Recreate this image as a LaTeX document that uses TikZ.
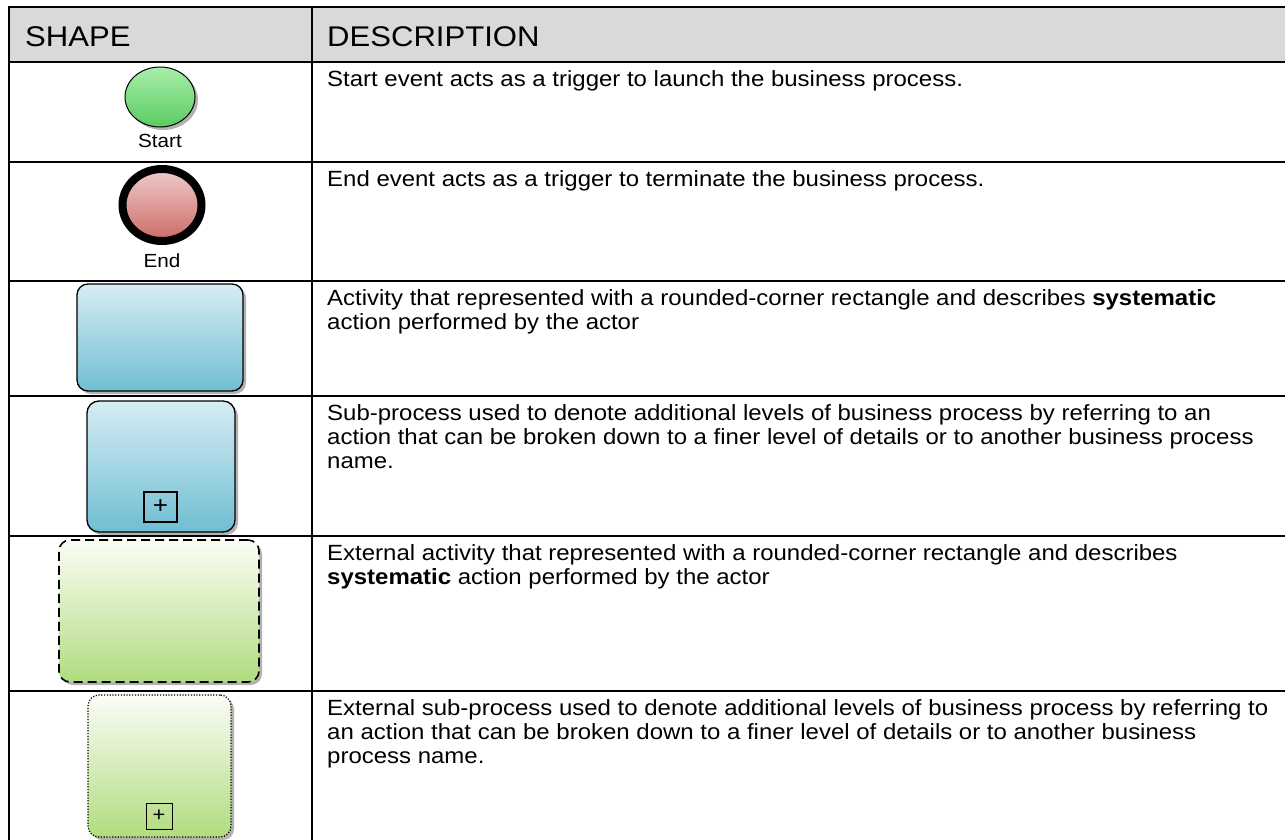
\documentclass[tikz,border=0pt]{standalone}
\usepackage{fontspec}
\setmainfont{Liberation Sans}[FakeStretch=1.09]
\usetikzlibrary{shapes.geometric,shadows}
\definecolor{hdrgray}{HTML}{D9D9D9}
\definecolor{grntop}{HTML}{A8EEAA}
\definecolor{grnbot}{HTML}{5ACB62}
\definecolor{redtop}{HTML}{F0CBCB}
\definecolor{redbot}{HTML}{CB6B66}
\definecolor{bluetop}{HTML}{D6EDF3}
\definecolor{bluebot}{HTML}{70BED3}
\definecolor{exttop}{HTML}{FBFDF6}
\definecolor{extbot}{HTML}{B0DC7E}
\begin{document}
\begin{tikzpicture}[x=1pt,y=-1pt,
  gridline/.style={line width=2.9pt,line cap=rect},
  hdrtext/.style={anchor=base west,inner sep=0pt,font=\fontsize{28.5}{32}\selectfont},
  desctext/.style={anchor=north west,inner sep=0pt,align=left,font=\fontsize{22}{24}\selectfont},
  shapelabel/.style={anchor=base,inner sep=0pt,font=\fontsize{19}{22}\selectfont},
  softshadow/.style={drop shadow={shadow xshift=3pt,shadow yshift=-3pt,fill=black,opacity=0.3}},
  startev/.style={ellipse,draw,line width=1pt,minimum width=70pt,minimum height=60pt,inner sep=0pt,
    top color=grntop,bottom color=grnbot,softshadow},
  endev/.style={ellipse,draw,line width=8pt,minimum width=79pt,minimum height=72pt,inner sep=0pt,
    top color=redtop,bottom color=redbot,softshadow},
  activitybox/.style={rectangle,rounded corners=11pt,draw,line width=1.3pt,inner sep=0pt,
    top color=bluetop,bottom color=bluebot,softshadow},
  extbox/.style={rectangle,rounded corners=11pt,draw,inner sep=0pt,
    top color=exttop,bottom color=extbot,softshadow},
  plusbox/.style={rectangle,draw,line width=1.2pt,inner sep=0pt,fill=none,
    font=\fontsize{24}{24}\selectfont}
]
\useasboundingbox (0,0) rectangle (1285,840);
\fill[white] (0,0) rectangle (1285,840);
\fill[hdrgray] (9,7) rectangle (1285,62);

% table grid
\draw[gridline] (9,7) -- (1285,7);
\draw[gridline] (9,62) -- (1285,62);
\draw[gridline] (9,162) -- (1285,162);
\draw[gridline] (9,281) -- (1285,281);
\draw[gridline] (9,396) -- (1285,396);
\draw[gridline] (9,536) -- (1285,536);
\draw[gridline] (9,691) -- (1285,691);
\draw[gridline] (9,7) -- (9,842);
\draw[gridline] (312,7) -- (312,842);

% header
\node[hdrtext] (hshape) at (25,46.7) {SHAPE};
\node[hdrtext] (hdesc) at (327,46.7) {DESCRIPTION};

% descriptions
\node[desctext] (d1) at (327,69.2) {\strut Start event acts as a trigger to launch the business process.};
\node[desctext] (d2) at (327,169.2) {\strut End event acts as a trigger to terminate the business process.};
\node[desctext] (d3) at (327,288.2) {\strut Activity that represented with a rounded-corner rectangle and describes \textbf{systematic}\\action performed by the actor};
\node[desctext] (d4) at (327,403.2) {\strut Sub-process used to denote additional levels of business process by referring to an\\action that can be broken down to a finer level of details or to another business process\\name.};
\node[desctext] (d5) at (327,543.2) {\strut External activity that represented with a rounded-corner rectangle and describes\\\textbf{systematic} action performed by the actor};
\node[desctext] (d6) at (327,698.2) {\strut External sub-process used to denote additional levels of business process by referring to\\an action that can be broken down to a finer level of details or to another business\\process name.};

% shapes
\node[startev] (start) at (160,97) {};
\node[shapelabel] (startlbl) at (160,148) {Start};

\node[endev] (end) at (162,205) {};
\node[shapelabel] (endlbl) at (162,267) {End};

\node[activitybox,minimum width=166pt,minimum height=107pt] (act) at (160,337.5) {};

\node[activitybox,minimum width=148pt,minimum height=131pt,rounded corners=12pt] (sub) at (161,466.5) {};
\node[plusbox,minimum width=33pt,minimum height=30pt] (subplus) at (160.5,507) {+};

\node[extbox,line width=1.6pt,dash pattern=on 9pt off 5pt,minimum width=200pt,minimum height=142pt] (extact) at (159,611) {};

\node[extbox,line width=1.2pt,dash pattern=on 1.2pt off 1.6pt,minimum width=143pt,minimum height=142pt] (extsub) at (159.5,766) {};
\node[plusbox,line width=1pt,minimum width=26pt,minimum height=26pt,font=\fontsize{20}{20}\selectfont] (extplus) at (159,816) {+};
\end{tikzpicture}
\end{document}
